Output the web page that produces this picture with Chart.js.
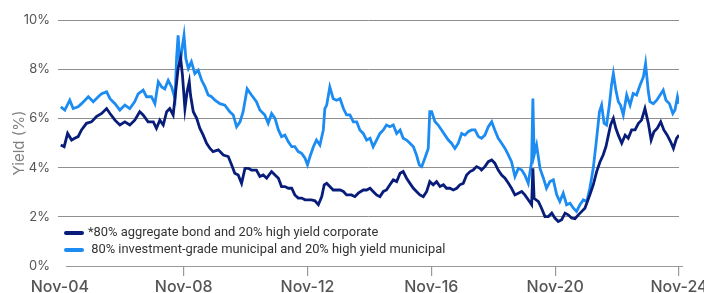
<!DOCTYPE html>
<html>
<head>
  <script src="https://cdn.jsdelivr.net/npm/chart.js"></script>
  <style>
    html, body { margin: 0; padding: 0; background: #fff; }
    #wrap { width: 704px; height: 293px; }
  </style>
</head>
<body>
  <div id="wrap"><canvas id="chart"></canvas></div>
  <script>
    // x axis: decimal years, tick every 4 years (November)
    const xTickValues = [2004.83, 2008.83, 2012.83, 2016.83, 2020.83, 2024.83];
    const xTickLabels = ['Nov-04', 'Nov-08', 'Nov-12', 'Nov-16', 'Nov-20', 'Nov-24'];

    const seriesLabels = [
      '*80% aggregate bond and 20% high yield corporate',
      ' 80% investment-grade municipal and 20% high yield municipal'
    ];

    // *80% aggregate bond / 20% high yield corporate
    const aggDates = [
      2004.86, 2004.97, 2005.08, 2005.21, 2005.31, 2005.42, 2005.53, 2005.69, 2005.85, 2006.01,
      2006.18, 2006.34, 2006.45, 2006.61, 2006.77, 2006.93, 2007.09, 2007.25, 2007.41, 2007.52,
      2007.68, 2007.85, 2007.95, 2008.06, 2008.17, 2008.28, 2008.38, 2008.49, 2008.58, 2008.65,
      2008.73, 2008.79, 2008.87, 2008.94, 2009.01, 2009.05, 2009.14, 2009.25, 2009.35, 2009.46,
      2009.57, 2009.68, 2009.78, 2009.95, 2010.11, 2010.27, 2010.38, 2010.48, 2010.59, 2010.70,
      2010.81, 2010.92, 2011.02, 2011.18, 2011.29, 2011.40, 2011.51, 2011.67, 2011.78, 2011.89,
      2011.99, 2012.10, 2012.21, 2012.32, 2012.42, 2012.53, 2012.64, 2012.75, 2012.85, 2012.96,
      2013.07, 2013.18, 2013.29, 2013.37, 2013.45, 2013.55, 2013.66, 2013.77, 2013.88, 2013.99,
      2014.09, 2014.25, 2014.36, 2014.47, 2014.63, 2014.74, 2014.85, 2014.95, 2015.06, 2015.17,
      2015.28, 2015.38, 2015.49, 2015.60, 2015.71, 2015.82, 2015.92, 2016.03, 2016.14, 2016.25,
      2016.35, 2016.46, 2016.57, 2016.68, 2016.78, 2016.89, 2017.00, 2017.11, 2017.22, 2017.32,
      2017.43, 2017.54, 2017.65, 2017.75, 2017.86, 2017.97, 2018.08, 2018.18, 2018.29, 2018.40,
      2018.45, 2018.56, 2018.67, 2018.78, 2018.88, 2018.99, 2019.10, 2019.21, 2019.32, 2019.42,
      2019.53, 2019.64, 2019.75, 2019.85, 2019.96, 2020.07, 2020.11, 2020.15, 2020.29, 2020.39,
      2020.50, 2020.61, 2020.72, 2020.82, 2020.93, 2021.04, 2021.15, 2021.25, 2021.36, 2021.47,
      2021.58, 2021.69, 2021.79, 2021.95, 2022.06, 2022.17, 2022.28, 2022.38, 2022.47, 2022.55,
      2022.62, 2022.71, 2022.79, 2022.87, 2022.98, 2023.09, 2023.19, 2023.30, 2023.41, 2023.52,
      2023.62, 2023.73, 2023.84, 2023.93, 2024.02, 2024.13, 2024.24, 2024.34, 2024.45, 2024.56,
      2024.65, 2024.75, 2024.83
    ];
    const aggYield = [
      4.92, 4.85, 5.39, 5.12, 5.19, 5.26, 5.53, 5.80, 5.86, 6.07,
      6.20, 6.40, 6.20, 5.93, 5.73, 5.86, 5.73, 5.93, 6.27, 6.14,
      5.86, 5.86, 5.60, 5.93, 5.73, 6.27, 6.40, 6.14, 7.20, 8.03,
      8.45, 7.76, 6.40, 7.08, 7.49, 6.95, 6.27, 6.00, 5.60, 5.32,
      4.99, 4.78, 4.65, 4.72, 4.51, 4.45, 4.11, 3.77, 3.70, 3.36,
      3.97, 3.97, 3.90, 3.90, 3.64, 3.70, 3.57, 3.84, 3.70, 3.57,
      3.23, 3.23, 3.16, 3.16, 2.89, 2.76, 2.76, 2.69, 2.69, 2.69,
      2.65, 2.49, 2.82, 3.30, 3.36, 3.23, 3.09, 3.09, 3.09, 3.03,
      2.89, 2.89, 2.82, 2.96, 3.09, 3.09, 3.16, 3.03, 2.89, 2.82,
      3.03, 3.09, 3.30, 3.50, 3.43, 3.77, 3.84, 3.57, 3.36, 3.16,
      3.03, 2.89, 2.82, 3.03, 3.43, 3.30, 3.43, 3.23, 3.30, 3.16,
      3.16, 3.09, 3.16, 3.30, 3.36, 3.70, 3.84, 3.90, 4.04, 3.97,
      3.90, 4.04, 4.24, 4.31, 4.18, 3.90, 3.70, 3.57, 3.36, 3.16,
      2.89, 2.96, 3.03, 2.89, 2.69, 2.49, 3.97, 2.75, 2.62, 2.35,
      2.01, 2.01, 2.15, 1.95, 1.81, 1.88, 2.15, 2.08, 1.95, 1.92,
      2.08, 2.22, 2.35, 2.89, 3.30, 3.84, 4.24, 4.51, 4.85, 5.32,
      5.73, 6.00, 5.60, 5.32, 4.99, 5.32, 5.19, 5.53, 5.53, 5.80,
      5.93, 6.40, 5.80, 5.12, 5.46, 5.60, 5.86, 5.53, 5.32, 5.05,
      4.78, 5.19, 5.32
    ];

    // 80% investment-grade municipal / 20% high yield municipal
    const muniDates = [
      2004.86, 2004.99, 2005.15, 2005.26, 2005.42, 2005.53, 2005.75, 2005.91, 2006.07, 2006.18,
      2006.34, 2006.45, 2006.61, 2006.77, 2006.93, 2007.09, 2007.25, 2007.36, 2007.52, 2007.63,
      2007.79, 2007.90, 2008.01, 2008.12, 2008.22, 2008.33, 2008.44, 2008.55, 2008.60, 2008.65,
      2008.71, 2008.79, 2008.84, 2008.90, 2008.98, 2009.08, 2009.19, 2009.30, 2009.41, 2009.52,
      2009.62, 2009.73, 2009.84, 2010.00, 2010.16, 2010.32, 2010.43, 2010.54, 2010.65, 2010.75,
      2010.88, 2011.02, 2011.18, 2011.29, 2011.45, 2011.56, 2011.67, 2011.78, 2011.89, 2011.99,
      2012.10, 2012.21, 2012.32, 2012.42, 2012.53, 2012.64, 2012.75, 2012.83, 2012.91, 2013.02,
      2013.12, 2013.23, 2013.34, 2013.39, 2013.45, 2013.55, 2013.66, 2013.77, 2013.88, 2013.99,
      2014.09, 2014.20, 2014.31, 2014.42, 2014.52, 2014.63, 2014.74, 2014.85, 2014.95, 2015.06,
      2015.17, 2015.28, 2015.38, 2015.49, 2015.60, 2015.71, 2015.82, 2015.92, 2016.03, 2016.14,
      2016.25, 2016.35, 2016.44, 2016.52, 2016.62, 2016.73, 2016.78, 2016.84, 2016.95, 2017.05,
      2017.16, 2017.27, 2017.38, 2017.48, 2017.59, 2017.70, 2017.81, 2017.92, 2018.02, 2018.13,
      2018.24, 2018.35, 2018.45, 2018.56, 2018.67, 2018.78, 2018.88, 2018.99, 2019.10, 2019.21,
      2019.32, 2019.42, 2019.53, 2019.64, 2019.75, 2019.85, 2019.96, 2020.07, 2020.11, 2020.15,
      2020.23, 2020.34, 2020.45, 2020.55, 2020.66, 2020.77, 2020.88, 2020.98, 2021.09, 2021.20,
      2021.31, 2021.42, 2021.52, 2021.63, 2021.74, 2021.85, 2021.95, 2022.06, 2022.17, 2022.26,
      2022.33, 2022.41, 2022.49, 2022.58, 2022.65, 2022.71, 2022.79, 2022.87, 2022.94, 2023.03,
      2023.14, 2023.25, 2023.35, 2023.46, 2023.57, 2023.68, 2023.75, 2023.84, 2023.89, 2024.00,
      2024.11, 2024.22, 2024.32, 2024.41, 2024.52, 2024.63, 2024.70, 2024.78, 2024.83
    ];
    const muniYield = [
      6.47, 6.34, 6.74, 6.40, 6.47, 6.60, 6.88, 6.68, 6.88, 7.00,
      7.08, 6.80, 6.60, 6.34, 6.54, 6.40, 6.68, 7.00, 7.15, 6.88,
      6.88, 6.60, 7.49, 7.28, 7.20, 7.55, 7.28, 6.80, 8.43, 9.38,
      8.16, 8.97, 9.38, 8.43, 8.03, 8.30, 7.82, 7.96, 7.55, 7.28,
      6.95, 6.88, 6.74, 6.60, 6.54, 6.27, 6.14, 5.66, 5.86, 6.27,
      7.20, 6.95, 6.68, 6.34, 6.14, 5.80, 6.20, 6.00, 5.53, 5.26,
      5.32, 5.05, 4.85, 4.85, 4.65, 4.58, 4.38, 4.11, 4.45, 4.85,
      5.12, 4.92, 5.53, 6.40, 6.54, 7.28, 6.80, 6.74, 6.80, 6.40,
      6.14, 6.14, 5.86, 5.86, 5.53, 5.39, 5.12, 5.19, 4.85, 5.12,
      5.39, 5.53, 5.73, 5.66, 5.73, 5.39, 5.53, 5.19, 5.12, 4.99,
      4.85, 4.51, 4.11, 4.04, 4.38, 4.78, 6.27, 6.27, 5.86, 5.73,
      5.53, 5.32, 5.12, 4.99, 4.78, 4.99, 5.39, 5.32, 5.46, 5.53,
      5.53, 5.26, 5.19, 5.32, 5.66, 5.86, 5.53, 5.19, 4.99, 4.78,
      4.51, 4.24, 3.64, 3.97, 3.90, 3.70, 3.36, 4.24, 6.81, 4.51,
      4.92, 3.97, 3.57, 3.16, 3.43, 3.50, 2.89, 2.62, 2.96, 2.49,
      2.55, 2.35, 2.22, 2.49, 2.69, 2.62, 3.16, 3.97, 5.19, 6.27,
      6.54, 5.80, 5.73, 6.54, 7.35, 7.82, 7.15, 6.68, 6.54, 6.14,
      6.95, 6.54, 7.01, 6.95, 7.35, 7.69, 8.23, 7.08, 6.68, 6.60,
      6.74, 6.95, 7.15, 6.74, 6.60, 6.20, 6.34, 6.88, 6.60
    ];

    const darkBlue = '#071d79';
    const lightBlue = '#1c8cf2';
    const fontFamily = 'Inter, Roboto, sans-serif';

    const toPoints = (xs, ys) => xs.map((x, i) => ({ x: x, y: ys[i] }));

    // legend drawn inside the plot, lower left, plus the x base line
    const insideLegend = {
      id: 'insideLegend',
      afterDraw(chart) {
        const ctx = chart.ctx;
        const area = chart.chartArea;
        ctx.save();
        ctx.strokeStyle = '#999';
        ctx.lineWidth = 1.2;
        ctx.beginPath();
        ctx.moveTo(area.left + 8, area.bottom + 0.5);
        ctx.lineTo(area.right + 4, area.bottom + 0.5);
        ctx.stroke();

        ctx.font = '12.9px Roboto, sans-serif';
        ctx.textBaseline = 'middle';
        chart.data.datasets.forEach((ds, i) => {
          const y = area.bottom - 33 + i * 17;
          ctx.strokeStyle = ds.borderColor;
          ctx.lineWidth = 4;
          ctx.lineCap = 'round';
          ctx.beginPath();
          ctx.moveTo(area.left + 8, y);
          ctx.lineTo(area.left + 24, y);
          ctx.stroke();
          ctx.fillStyle = '#333';
          ctx.fillText(ds.label, area.left + 30, y);
        });
        ctx.restore();
      }
    };

    new Chart(document.getElementById('chart'), {
      type: 'line',
      data: {
        datasets: [
          {
            label: seriesLabels[0],
            data: toPoints(aggDates, aggYield),
            borderColor: darkBlue,
            borderWidth: 2.8,
            pointRadius: 0,
            tension: 0
          },
          {
            label: seriesLabels[1],
            data: toPoints(muniDates, muniYield),
            borderColor: lightBlue,
            borderWidth: 2.8,
            pointRadius: 0,
            tension: 0
          }
        ]
      },
      options: {
        responsive: true,
        maintainAspectRatio: false,
        animation: false,
        layout: { padding: { top: 20, right: 25, bottom: 0, left: 0 } },
        plugins: {
          legend: { display: false },
          tooltip: { enabled: false }
        },
        scales: {
          x: {
            type: 'linear',
            min: 2004.77,
            max: 2024.83,
            afterBuildTicks: (scale) => {
              scale.ticks = xTickValues.map(v => ({ value: v }));
            },
            afterFit: (scale) => {
              scale.height = 27;
              scale.paddingLeft = 0;
              scale.paddingRight = 0;
            },
            ticks: {
              autoSkip: false,
              maxRotation: 0,
              padding: 2,
              color: '#555',
              font: { family: fontFamily, size: 16, weight: '500' },
              callback: (v, i) => xTickLabels[i]
            },
            grid: {
              drawOnChartArea: false,
              drawTicks: true,
              tickLength: 10,
              lineWidth: 1.2,
              color: (c) => c.index === 0 ? 'rgba(0,0,0,0)' : '#999'
            },
            border: { display: false }
          },
          y: {
            min: 0,
            max: 10,
            afterFit: (scale) => { scale.width = 58; },
            ticks: {
              stepSize: 2,
              padding: 8,
              color: '#555',
              font: { family: fontFamily, size: 13 },
              callback: (v) => v + '%'
            },
            grid: {
              drawTicks: false,
              lineWidth: 1,
              color: (c) => c.tick.value === 0 ? 'rgba(0,0,0,0)' : '#8f8f8f'
            },
            border: { display: false },
            title: {
              display: true,
              text: 'Yield (%)',
              color: '#808080',
              padding: { top: 10, bottom: 0 },
              font: { family: fontFamily, size: 15 }
            }
          }
        }
      },
      plugins: [insideLegend]
    });
  </script>
</body>
</html>
